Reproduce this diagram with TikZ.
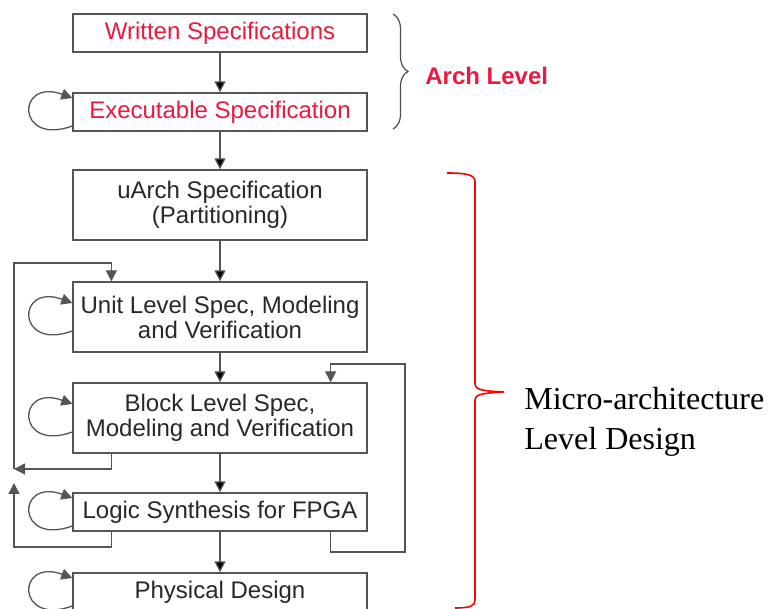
\documentclass[tikz,border=0pt]{standalone}
\usepackage{fontspec}
\setmainfont{Liberation Serif}
\setsansfont{Liberation Sans}
\usetikzlibrary{arrows.meta,decorations.pathreplacing}
\definecolor{specred}{RGB}{236,24,64}
\definecolor{boxgray}{RGB}{85,85,85}
\definecolor{txtgray}{RGB}{40,40,40}

\begin{document}
\begin{tikzpicture}[x=0.5pt,y=-0.5pt,
		stage/.style={rectangle,draw=boxgray,line width=0.65pt,fill=white,minimum width=147pt,minimum height=19pt,inner sep=0pt,align=center,font=\sffamily\fontsize{12}{12.5}\selectfont,text=txtgray},
		tall/.style={minimum height=35pt},
		flow/.style={draw=boxgray,line width=0.65pt,-{Triangle[width=5.5pt,length=5.5pt]}},
		selfloop/.style={flow,out=200,in=160,looseness=5.5}]
		\useasboundingbox (0,0) rectangle (768,609);

		\node at (220, 33) [stage,text=specred] (written) {Written Specifications};
		\node at (220,112) [stage,text=specred] (exec)    {Executable Specification};
		\node at (220,205) [stage,tall]         (uarch)   {uArch Specification\\(Partitioning)};
		\node at (220,317) [stage,tall]         (unit)    {Unit Level Spec, Modeling\\and Verification};
		\node at (220,418) [stage,tall]         (block)   {Block Level Spec,\\Modeling and Verification};
		\node at (220,512) [stage]              (logic)   {Logic Synthesis for FPGA};
		\node at (220,592) [stage]              (phys)    {Physical Design};

		\draw[flow] (written) edge (exec);
		\draw[flow] (exec)    edge (uarch);
		\draw[flow] (uarch)   edge (unit);
		\draw[flow] (unit)    edge (block);
		\draw[flow] (block)   edge (logic);
		\draw[flow] (logic)   edge (phys);

		% self loops on the left side
		\draw[selfloop] ([yshift=-7pt]exec.west)  to ([yshift=7pt]exec.west);
		\draw[selfloop] ([yshift=-7pt]unit.west)  to ([yshift=7pt]unit.west);
		\draw[selfloop] ([yshift=-7pt]block.west) to ([yshift=7pt]block.west);
		\draw[selfloop] ([yshift=-7pt]logic.west) to ([yshift=7pt]logic.west);
		\draw[selfloop] ([yshift=-7pt]phys.west)  to ([yshift=7pt]phys.west);

		% feedback on the left
		\coordinate (fbtop)  at (14,263);
		\coordinate (fbmid)  at (14,469);
		\coordinate (fbhead) at (14,483);
		\coordinate (fblow)  at (14,547);
		\draw[flow] (fbmid) -- (fbtop) -| ([xshift=19.5pt]unit.north west);
		\draw[flow] ([xshift=19.5pt]block.south west) |- (fbmid);
		\draw[flow] ([xshift=19.5pt]logic.south west) |- (fblow) -- (fbhead);

		% feedback on the right
		\coordinate (fbrlow) at (405,552);
		\coordinate (fbrtop) at (405,364);
		\draw[flow] ([xshift=-18.5pt]logic.south east) |- (fbrlow) -- (fbrtop) -| ([xshift=-18.5pt]block.north east);

		% levels
		\draw[decorate,decoration={brace,amplitude=7.5pt},draw=black!70,line width=0.6pt] (393,14) -- (393,129);
		\node at (425,76) [anchor=west,inner sep=0pt,text=specred,font=\sffamily\bfseries\fontsize{12}{14}\selectfont] (archlabel) {Arch Level};

		\draw[red,line width=0.8pt] (447,173) .. controls (468,173) and (475,175) .. (475,182) -- (475,384)
			.. controls (475,389) and (480,391) .. (504,392) .. controls (480,393) and (475,395) .. (475,400)
			-- (475,600) .. controls (475,606) and (470,608) .. (455,608);
		\node at (524,422) [anchor=west,inner sep=0pt,align=left,font=\fontsize{16}{20}\selectfont] (microlabel) {Micro-architecture\\Level Design};
	\end{tikzpicture}
\end{document}
